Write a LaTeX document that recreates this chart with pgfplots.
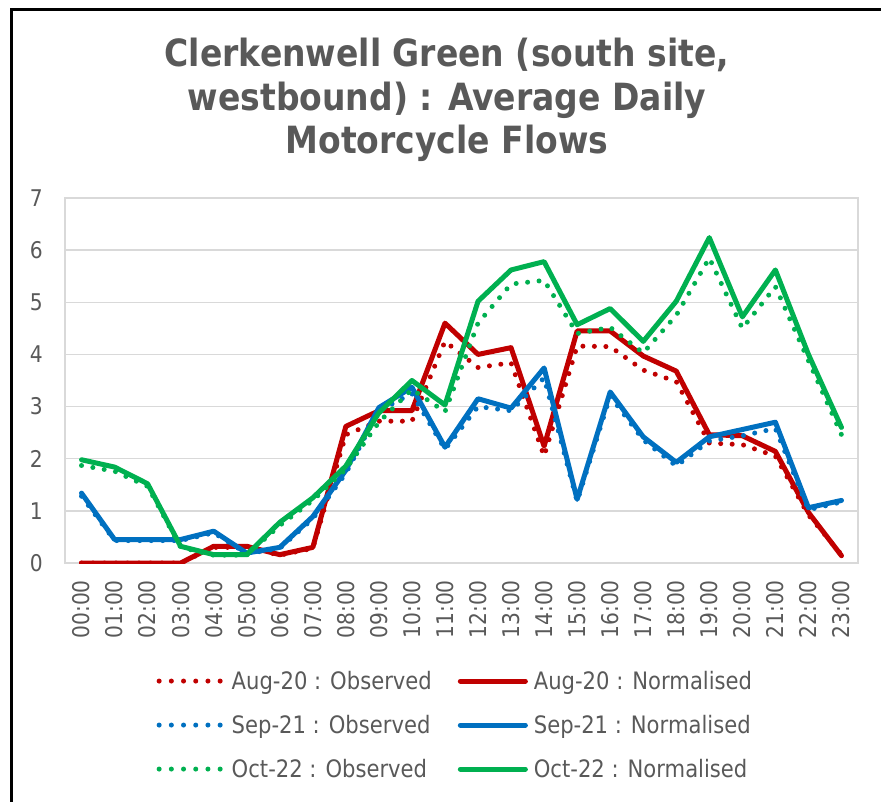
\documentclass[border=0pt]{standalone}
\usepackage{pgfplots}
\usepackage{pgfplotstable}
\pgfplotsset{compat=1.18}
\usepackage{fontspec}
\setmainfont{DejaVu Sans}[FakeStretch=0.88]
\definecolor{txt}{HTML}{595959}
\definecolor{grd}{HTML}{D9D9D9}
\definecolor{cred}{HTML}{C00000}
\definecolor{cblue}{HTML}{0070C0}
\definecolor{cgreen}{HTML}{00B050}

\pgfplotstableread{
h  ro   rn   bo   bn   go   gn
0  0    0    1.28 1.34 1.87 1.98
1  0    0    0.43 0.45 1.76 1.84
2  0    0    0.43 0.45 1.47 1.52
3  0    0    0.43 0.45 0.30 0.32
4  0.30 0.32 0.58 0.61 0.15 0.16
5  0.30 0.32 0.18 0.19 0.15 0.16
6  0.15 0.16 0.28 0.30 0.72 0.78
7  0.28 0.30 0.85 0.89 1.20 1.25
8  2.46 2.62 1.72 1.78 1.80 1.86
9  2.72 2.92 2.92 2.98 2.70 2.88
10 2.72 2.92 3.25 3.37 3.33 3.50
11 4.25 4.60 2.18 2.22 2.90 3.03
12 3.75 4.00 3.00 3.15 4.60 5.02
13 3.84 4.13 2.92 2.97 5.35 5.62
14 2.05 2.24 3.55 3.74 5.42 5.78
15 4.16 4.45 1.18 1.22 4.40 4.57
16 4.15 4.45 3.20 3.28 4.52 4.88
17 3.70 3.97 2.36 2.42 4.03 4.25
18 3.48 3.68 1.86 1.93 4.75 5.02
19 2.30 2.46 2.34 2.42 5.85 6.24
20 2.27 2.44 2.44 2.56 4.50 4.72
21 2.05 2.14 2.58 2.70 5.30 5.62
22 0.92 0.97 1.02 1.06 3.88 4.00
23 0.16 0.14 1.17 1.20 2.46 2.60
}\data

\pgfplotsset{
  obs/.style={#1, line width=5pt, dash pattern=on 0pt off 11.5pt, line cap=round,
    legend image code/.code={\draw[#1, line width=5pt, dash pattern=on 0pt off 12.2pt, line cap=round] (0pt,0pt) -- (61.1pt,0pt);}},
  nrm/.style={#1, line width=5pt, line join=round, line cap=round,
    legend image code/.code={\draw[#1, line width=5pt, line cap=round] (0pt,0pt) -- (65pt,0pt);}},
}

\begin{document}
\begin{tikzpicture}[x=1pt,y=1pt]
\begin{axis}[
  at={(65pt,238pt)}, anchor=south west,
  width=793pt, height=365pt, scale only axis,
  xmin=-0.5, xmax=23.5, ymin=0, ymax=7,
  xtick={0,...,23},
  xticklabels={00:00,01:00,02:00,03:00,04:00,05:00,06:00,07:00,08:00,09:00,10:00,11:00,12:00,13:00,14:00,15:00,16:00,17:00,18:00,19:00,20:00,21:00,22:00,23:00},
  ytick={0,...,7},
  major tick length=0pt,
  ymajorgrids, grid style={grd, line width=1.5pt},
  axis line style={grd, line width=2.5pt},
  /pgf/number format/assume math mode=true,
  tick label style={font=\fontsize{23}{27}\selectfont, text=txt},
  xticklabel style={rotate=90, anchor=east, inner xsep=17pt, inner ysep=0pt},
  yticklabel style={anchor=east, inner xsep=22pt, inner ysep=0pt},
  legend columns=2,
  legend cell align=left,
  legend style={draw=none, fill=none, at={(0.491,-0.444)}, anchor=center,
    font=\fontsize{24}{28}\selectfont, text=txt,
    nodes={inner sep=0pt, text height=17pt, text depth=0pt},
    row sep=27pt,
    /tikz/column 1/.style={column sep=9pt},
    /tikz/column 2/.style={column sep=26pt},
    /tikz/column 3/.style={column sep=6pt}},
]
\addplot[obs=cred] table[x=h,y=ro]{\data};
\addlegendentry{Aug-20 : Observed}
\addplot[nrm=cred] table[x=h,y=rn]{\data};
\addlegendentry{Aug-20 : Normalised}
\addplot[obs=cblue] table[x=h,y=bo]{\data};
\addlegendentry{Sep-21 : Observed}
\addplot[nrm=cblue] table[x=h,y=bn]{\data};
\addlegendentry{Sep-21 : Normalised}
\addplot[obs=cgreen] table[x=h,y=go]{\data};
\addlegendentry{Oct-22 : Observed}
\addplot[nrm=cgreen] table[x=h,y=gn]{\data};
\addlegendentry{Oct-22 : Normalised}
\end{axis}
\begin{scope}[font=\bfseries\fontsize{37.5}{44}\selectfont, text=txt]
\node[anchor=base] at (447,734) {Clerkenwell Green (south site,};
\node[anchor=base] at (447,690) {westbound) : Average Daily};
\node[anchor=base] at (447,647) {Motorcycle Flows};
\end{scope}
\draw[black, line width=3pt] (11.5,-100) -- (11.5,791) -- (1000,791);
\pgfresetboundingbox
\path[use as bounding box] (0,0) rectangle (881,801);
\end{tikzpicture}
\end{document}
